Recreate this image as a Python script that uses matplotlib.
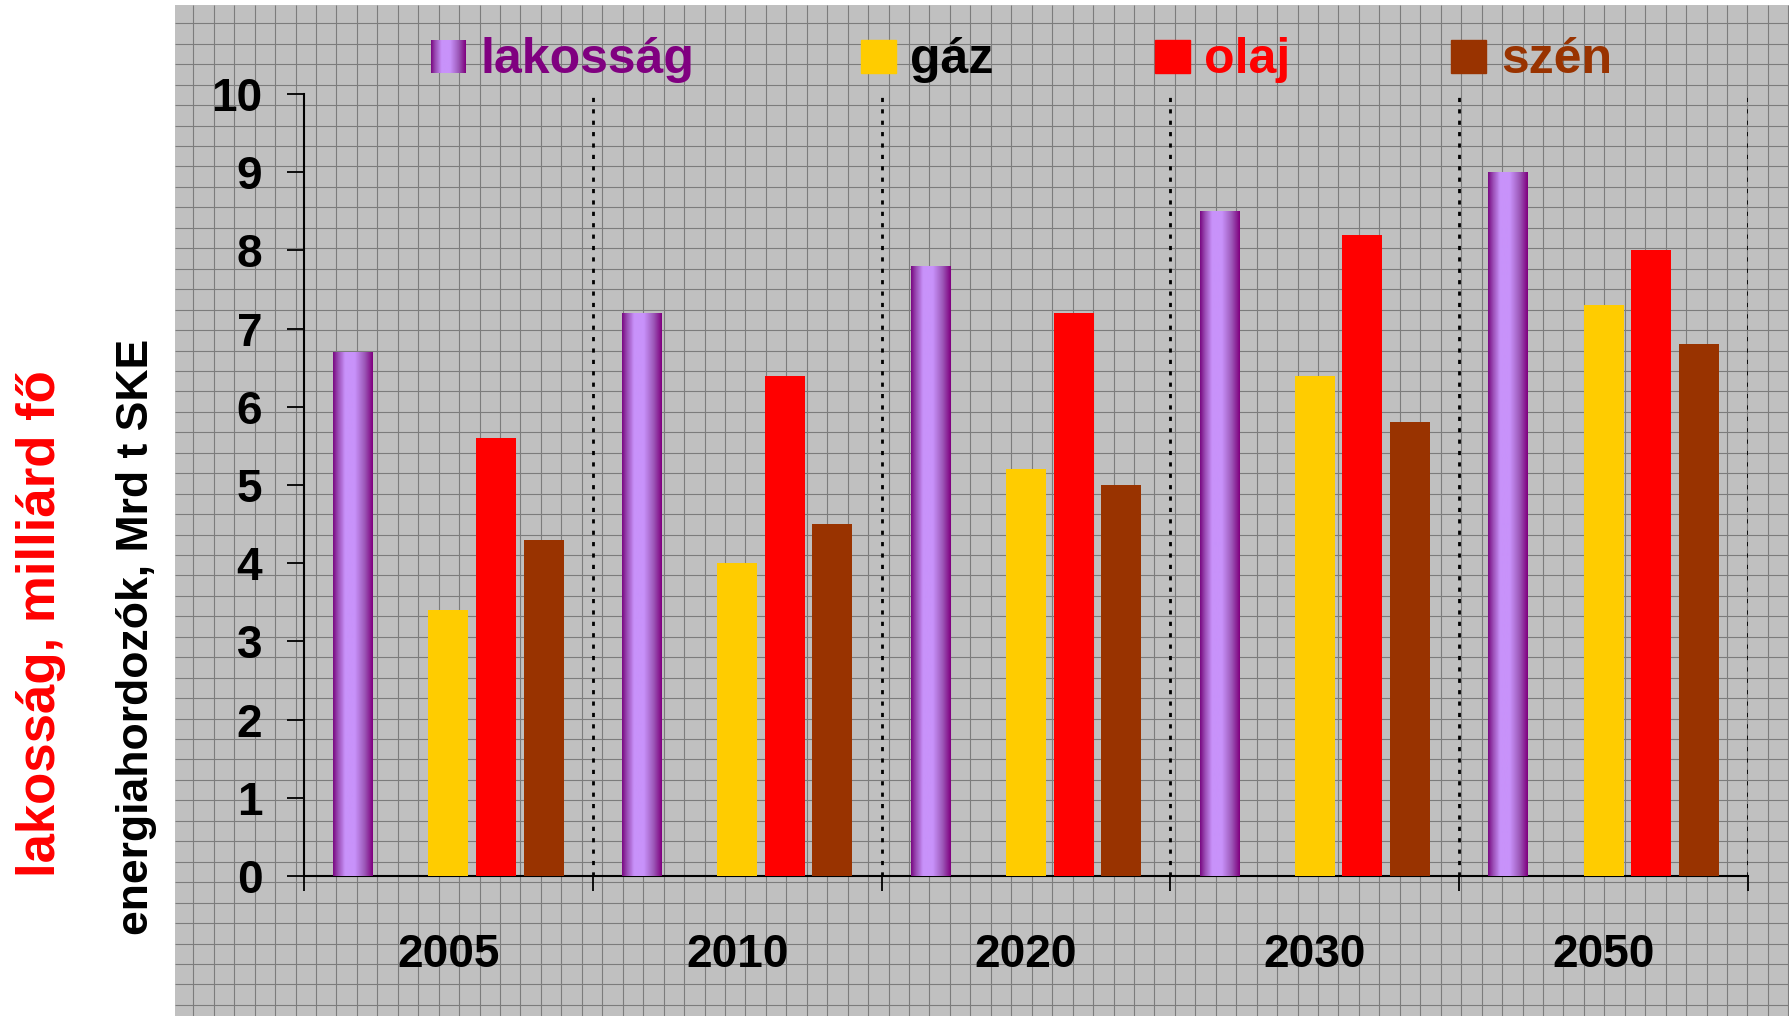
import numpy as np
import matplotlib
matplotlib.use("Agg")
import matplotlib.pyplot as plt
from matplotlib.colors import LinearSegmentedColormap
from matplotlib.patches import Rectangle

# data
years = ["2005", "2010", "2020", "2030", "2050"]
lakossag = [6.7, 7.2, 7.8, 8.5, 9.0]
gaz = [3.4, 4.0, 5.2, 6.4, 7.3]
olaj = [5.6, 6.4, 7.2, 8.2, 8.0]
szen = [4.3, 4.5, 5.0, 5.8, 6.8]
yticks = list(range(0, 11))

W, H = 1789, 1016
plt.rcParams['font.family'] = ['Liberation Sans', 'DejaVu Sans']

purple_cmap = LinearSegmentedColormap.from_list(
    "lak", [(0, "#7a0a84"), (0.12, "#9a4cb4"), (0.3, "#c892fa"),
            (0.55, "#c892fa"), (0.8, "#9c58b8"), (1, "#800080")])


def fx(x):
    return x / W


def fy(y):
    return 1 - y / H


fig = plt.figure(figsize=(W / 100, H / 100), dpi=100)
fig.patch.set_facecolor("white")

# graph paper background
bg = fig.add_axes([fx(175), 0, 1 - fx(175), (H - 5) / H])
bg.set_xlim(175, W)
bg.set_ylim(H, 5)
bg.set_facecolor("#c0c0c0")
bg.vlines(np.arange(193.3, W, 20.45), 5, H, color="#7c7c7c", lw=0.8)
bg.hlines(np.arange(23.3, H, 20.45), 175, W, color="#7c7c7c", lw=0.8)
bg.set_xticks([])
bg.set_yticks([])
for s in bg.spines.values():
    s.set_visible(False)

# main axes
ax = fig.add_axes([fx(304), fy(876), (1748 - 304) / W, (876 - 94) / H])
ax.set_facecolor("none")

centers = np.arange(len(years)) + 0.5
step = 0.1648
bw = 0.1385

lak_bars = ax.bar(centers - 2 * step, lakossag, bw, color="#a060c8", zorder=3)
ax.bar(centers, gaz, bw, color="#ffcc00", zorder=3)
ax.bar(centers + step, olaj, bw, color="#ff0000", zorder=3)
ax.bar(centers + 2 * step, szen, bw, color="#993300", zorder=3)

grad = np.linspace(0, 1, 64).reshape(1, -1)
for r in lak_bars:
    x0, y0 = r.get_x(), r.get_y()
    im = ax.imshow(grad, cmap=purple_cmap, aspect="auto", zorder=4,
                   extent=(x0, x0 + r.get_width(), y0, y0 + r.get_height()))
    im.set_clip_path(r)
ax.set_xlim(0, 5)
ax.set_ylim(0, 10)

# dotted separators
ax.vlines(np.arange(1, len(years) + 1), 0, 10, color="black", lw=2.0,
          linestyles=[(0, (1.5, 2.6))], zorder=2)

for side in ["top", "right"]:
    ax.spines[side].set_visible(False)
for side in ["left", "bottom"]:
    ax.spines[side].set_linewidth(1.5)

ax.set_yticks(yticks)
ax.set_yticklabels([str(t) for t in yticks], fontsize=33, fontweight="bold")
ax.tick_params(axis="y", direction="out", length=12, width=1.3, pad=18)

ax.set_xticks(np.arange(0, len(years) + 1))
ax.set_xticklabels([])
ax.tick_params(axis="x", which="major", direction="out", length=11, width=1.3)
ax.set_xticks(centers, minor=True)
ax.set_xticklabels(years, minor=True, fontsize=33, fontweight="bold")
ax.tick_params(axis="x", which="minor", length=0, pad=41)

# custom legend on top
legend_items = [
    ("lakosság", None, "#800080", 431, 480),
    ("gáz", "#ffcc00", "black", 861, 910),
    ("olaj", "#ff0000", "#ff0000", 1155, 1204),
    ("szén", "#993300", "#993300", 1451, 1501),
]
for label, fc, tc, sx, tx in legend_items:
    if fc is None:
        lax = fig.add_axes([fx(sx), fy(73), 35 / W, 33 / H])
        lax.imshow(grad, cmap=purple_cmap, aspect="auto")
        lax.axis("off")
    else:
        fig.patches.append(Rectangle((fx(sx), fy(73)), 35 / W, 33 / H,
                                     transform=fig.transFigure, color=fc))
    fig.text(fx(tx), fy(73), label, fontsize=36, fontweight="bold",
             color=tc, ha="left", va="baseline")

# y labels
fig.text(fx(55), fy(624), "lakosság, milliárd fő", rotation=90,
         rotation_mode="anchor", ha="center", va="baseline",
         fontsize=38, fontweight="bold", color="#ff0000")
fig.text(fx(148), fy(637), "energiahordozók, Mrd t SKE", rotation=90,
         rotation_mode="anchor", ha="center", va="baseline",
         fontsize=32, fontweight="bold", color="black")

fig.savefig("out.png", dpi=100)
